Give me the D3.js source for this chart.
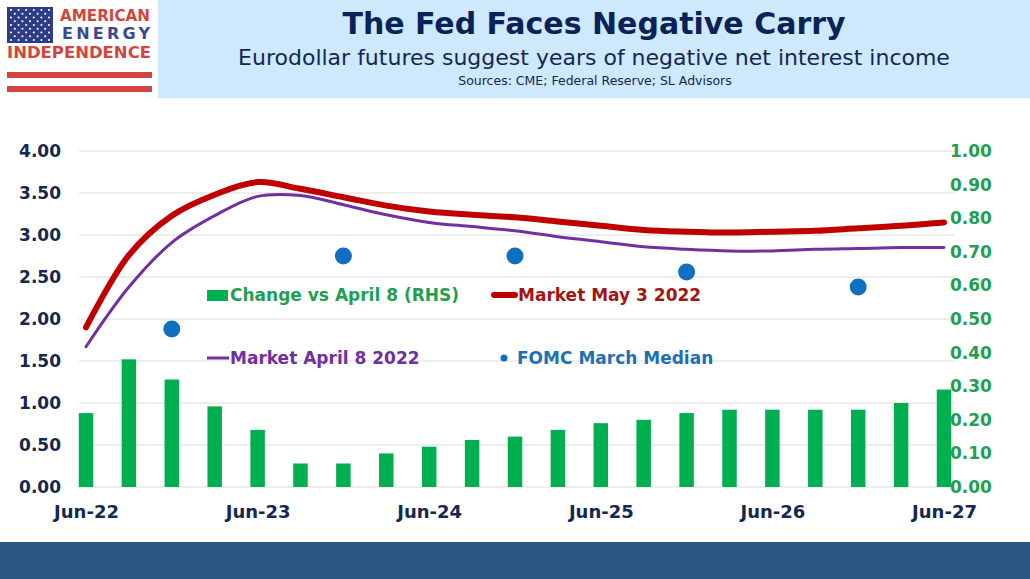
<!DOCTYPE html>
<html>
<head>
<meta charset="utf-8">
<script src="https://cdn.jsdelivr.net/npm/d3@7"></script>
<style>
  html, body { margin: 0; padding: 0; background: #fff; }
  svg { display: block; }
</style>
</head>
<body>
<svg id="chart" width="1030" height="579"></svg>
<script>
// ---- data ----
const quarters = ['Jun-22','Sep-22','Dec-22','Mar-23','Jun-23','Sep-23','Dec-23','Mar-24',
  'Jun-24','Sep-24','Dec-24','Mar-25','Jun-25','Sep-25','Dec-25','Mar-26','Jun-26','Sep-26',
  'Dec-26','Mar-27','Jun-27'];
const xTickLabels = ['Jun-22','Jun-23','Jun-24','Jun-25','Jun-26','Jun-27'];
const leftTicks  = [0, 0.5, 1, 1.5, 2, 2.5, 3, 3.5, 4];
const rightTicks = [0, 0.1, 0.2, 0.3, 0.4, 0.5, 0.6, 0.7, 0.8, 0.9, 1];

// bars, right hand scale
const changeVsApr8 = [0.22, 0.38, 0.32, 0.24, 0.17, 0.07, 0.07, 0.10, 0.12, 0.14, 0.15,
  0.17, 0.19, 0.20, 0.22, 0.23, 0.23, 0.23, 0.23, 0.25, 0.29];
// lines, left hand scale
const marketMay3 = [1.90, 2.76, 3.23, 3.48, 3.63, 3.55, 3.45, 3.35, 3.28, 3.24, 3.21,
  3.16, 3.11, 3.06, 3.04, 3.03, 3.04, 3.05, 3.08, 3.11, 3.15];
const marketApr8 = [1.67, 2.38, 2.91, 3.23, 3.46, 3.47, 3.36, 3.24, 3.15, 3.10, 3.05,
  2.98, 2.92, 2.86, 2.83, 2.81, 2.81, 2.83, 2.84, 2.85, 2.85];
// FOMC dots
const fomcQuarters    = ['Dec-22','Dec-23','Dec-24','Dec-25','Dec-26'];
const fomcMarchMedian = [1.88, 2.75, 2.75, 2.56, 2.38];

const legendLabels = ['Change vs April 8 (RHS)', 'Market May 3 2022', 'Market April 8 2022', 'FOMC March Median'];

// ---- colours ----
const C = {
  bar: '#00b050', barText: '#1fa050',
  red: '#c00000', redText: '#a31515',
  purple: '#7030a0', blue: '#0f6fc0', blueText: '#1f6fb5',
  navy: '#15284f', grid: '#dcdcdc'
};
const FONT = '"DejaVu Sans", Verdana, sans-serif';

const svg = d3.select('#chart');

// ---- header ----
svg.append('rect').attr('x', 158).attr('y', 0).attr('width', 872).attr('height', 98)
  .attr('fill', '#cde9fb');

svg.append('text').attr('x', 594).attr('y', 34)
  .attr('text-anchor', 'middle').attr('font-family', FONT).attr('font-weight', 'bold')
  .attr('font-size', 30).attr('fill', '#0a2257')
  .text('The Fed Faces Negative Carry');
svg.append('text').attr('x', 594).attr('y', 65)
  .attr('text-anchor', 'middle').attr('font-family', FONT)
  .attr('font-size', 22).attr('fill', '#152654')
  .text('Eurodollar futures suggest years of negative net interest income');
svg.append('text').attr('x', 595).attr('y', 85)
  .attr('text-anchor', 'middle').attr('font-family', FONT)
  .attr('font-size', 12.5).attr('fill', '#152654')
  .text('Sources: CME; Federal Reserve; SL Advisors');

// logo
const logo = svg.append('g');
logo.append('rect').attr('x', 7).attr('y', 7).attr('width', 46).attr('height', 36).attr('fill', '#2d3c86');
for (let r = 0; r < 9; r++) {
  const n = r % 2 ? 5 : 6;
  for (let c = 0; c < n; c++) {
    logo.append('circle')
      .attr('cx', 11 + c * 7.6 + (r % 2 ? 3.8 : 0))
      .attr('cy', 10 + r * 3.75)
      .attr('r', 1.05).attr('fill', '#fff');
  }
}
const logoFont = '"DejaVu Sans", sans-serif';
logo.append('text').attr('x', 60).attr('y', 21).attr('textLength', 90).attr('lengthAdjust', 'spacingAndGlyphs')
  .attr('font-family', logoFont).attr('font-weight', 'bold').attr('font-size', 16.5).attr('fill', '#d2453e')
  .text('AMERICAN');
logo.append('text').attr('x', 62).attr('y', 39).attr('textLength', 88).attr('lengthAdjust', 'spacing')
  .attr('font-family', logoFont).attr('font-weight', 'bold').attr('font-size', 16).attr('fill', '#3b4a8e')
  .text('ENERGY');
logo.append('text').attr('x', 7).attr('y', 58).attr('textLength', 144).attr('lengthAdjust', 'spacingAndGlyphs')
  .attr('font-family', logoFont).attr('font-weight', 'bold').attr('font-size', 16.5).attr('fill', '#d2453e')
  .text('INDEPENDENCE');
logo.append('rect').attr('x', 7).attr('y', 72).attr('width', 145).attr('height', 6).attr('fill', '#d2453e');
logo.append('rect').attr('x', 7).attr('y', 86).attr('width', 145).attr('height', 6).attr('fill', '#d2453e');

// footer band
svg.append('rect').attr('x', 0).attr('y', 542).attr('width', 1030).attr('height', 37).attr('fill', '#2b5785');

// ---- scales ----
const x  = d3.scalePoint().domain(quarters).range([86, 944]);
const yL = d3.scaleLinear().domain([0, 4]).range([487, 151]);
const yR = d3.scaleLinear().domain([0, 1]).range([487, 151]);

// gridlines
svg.append('g').selectAll('line').data(leftTicks).join('line')
  .attr('x1', 79).attr('x2', 955)
  .attr('y1', d => yL(d)).attr('y2', d => yL(d))
  .attr('stroke', C.grid).attr('stroke-width', 1);

// axes
const styleAxis = (g, color, size) => {
  g.select('.domain').remove();
  g.selectAll('text').attr('font-family', FONT).attr('font-weight', 'bold')
    .attr('font-size', size).attr('fill', color);
};
svg.append('g').attr('transform', 'translate(61,0)')
  .call(d3.axisLeft(yL).tickValues(leftTicks).tickFormat(d3.format('.2f')).tickSize(0).tickPadding(0))
  .call(g => styleAxis(g, C.navy, 17));
svg.append('g').attr('transform', 'translate(950,0)')
  .call(d3.axisRight(yR).tickValues(rightTicks).tickFormat(d3.format('.2f')).tickSize(0).tickPadding(0))
  .call(g => styleAxis(g, C.barText, 17));
svg.append('g').attr('transform', 'translate(0,505)')
  .call(d3.axisBottom(x).tickValues(xTickLabels).tickSize(0).tickPadding(0))
  .call(g => styleAxis(g, C.navy, 18));

// bars
const barW = 14.5;
svg.append('g').selectAll('rect').data(changeVsApr8).join('rect')
  .attr('x', (d, i) => x(quarters[i]) - barW / 2)
  .attr('y', d => yR(d))
  .attr('width', barW)
  .attr('height', d => yR(0) - yR(d))
  .attr('fill', C.bar);

// lines
const line = d3.line()
  .x((d, i) => x(quarters[i]))
  .y(d => yL(d))
  .curve(d3.curveCatmullRom.alpha(0.5));
svg.append('path').datum(marketApr8).attr('d', line)
  .attr('fill', 'none').attr('stroke', C.purple).attr('stroke-width', 3)
  .attr('stroke-linecap', 'round');
svg.append('path').datum(marketMay3).attr('d', line)
  .attr('fill', 'none').attr('stroke', C.red).attr('stroke-width', 6)
  .attr('stroke-linecap', 'round');

// FOMC dots
svg.append('g').selectAll('circle').data(fomcMarchMedian).join('circle')
  .attr('cx', (d, i) => x(fomcQuarters[i]))
  .attr('cy', d => yL(d))
  .attr('r', 8.5)
  .attr('fill', C.blue);

// ---- legend ----
const lg = svg.append('g').attr('font-family', FONT).attr('font-weight', 'bold').attr('font-size', 17);
// row 1
lg.append('rect').attr('x', 207).attr('y', 290).attr('width', 21).attr('height', 11).attr('fill', C.bar);
lg.append('text').attr('x', 230).attr('y', 301).attr('fill', C.barText).text(legendLabels[0]);
lg.append('line').attr('x1', 494).attr('x2', 515).attr('y1', 295).attr('y2', 295)
  .attr('stroke', C.red).attr('stroke-width', 6).attr('stroke-linecap', 'round');
lg.append('text').attr('x', 518).attr('y', 301).attr('fill', C.redText).text(legendLabels[1]);
// row 2
lg.append('line').attr('x1', 207).attr('x2', 229).attr('y1', 358).attr('y2', 358)
  .attr('stroke', C.purple).attr('stroke-width', 3);
lg.append('text').attr('x', 230).attr('y', 364).attr('fill', C.purple).text(legendLabels[2]);
lg.append('circle').attr('cx', 504).attr('cy', 358).attr('r', 3.5).attr('fill', C.blue);
lg.append('text').attr('x', 517).attr('y', 364).attr('fill', C.blueText).text(legendLabels[3]);
</script>
</body>
</html>
